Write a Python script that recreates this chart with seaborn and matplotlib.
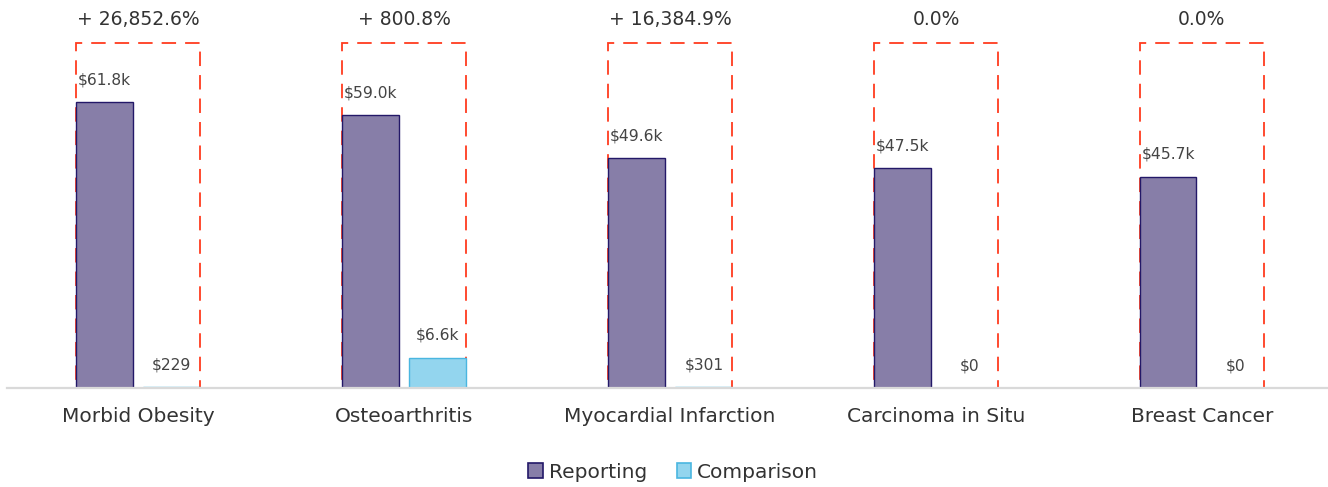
import matplotlib
matplotlib.use("Agg")
import matplotlib.pyplot as plt
from matplotlib.patches import Rectangle, Patch
import seaborn as sns
import pandas as pd

categories = ["Morbid Obesity", "Osteoarthritis", "Myocardial Infarction",
              "Carcinoma in Situ", "Breast Cancer"]
reporting = [61800, 59000, 49600, 47500, 45700]
comparison = [229, 6580, 301, 0, 0]
pct_change = [26852.6, 800.8, 16384.9, 0.0, 0.0]
series = ["Reporting", "Comparison"]


def money(v):
    if v >= 1000:
        return "${:.1f}k".format(v / 1000)
    return "${:.0f}".format(v)


def pct(p):
    if p > 0:
        return "+ {:,.1f}%".format(p)
    return "{:.1f}%".format(p)


df = pd.DataFrame({
    "category": categories * 2,
    "series": [series[0]] * len(categories) + [series[1]] * len(categories),
    "value": reporting + comparison,
})

face = {"Reporting": "#877ea8", "Comparison": "#93d5ee"}
edge = {"Reporting": "#231868", "Comparison": "#4ab6e0"}

sns.set_style("white")
plt.rcParams["font.family"] = ["DejaVu Sans"]

fig = plt.figure(figsize=(13.28, 4.87), dpi=100)
ax = fig.add_axes([7 / 1328, 99 / 487, 1321 / 1328, 388 / 487])

sns.barplot(data=df, x="category", y="value", hue="series", hue_order=series,
            palette=face, width=0.51, gap=0.16, ax=ax, legend=False,
            saturation=1, linewidth=1.0)

for cont, s in zip(ax.containers, series):
    for bar in cont:
        bar.set_edgecolor(edge[s])
        bar.set_zorder(3)

top = max(reporting) * 1.205
for i in range(len(categories)):
    rb = ax.containers[0][i]
    cb = ax.containers[1][i]
    x0 = rb.get_x()
    x1 = cb.get_x() + cb.get_width()
    ax.add_patch(Rectangle((x0, 0), x1 - x0, top, fill=False,
                           edgecolor="#ff3b1f", linewidth=1.3,
                           linestyle=(0, (8, 5)), zorder=2))
    ax.annotate(pct(pct_change[i]), ((x0 + x1) / 2, top), xytext=(0, 10.5),
                textcoords="offset points", ha="center", va="bottom",
                fontsize=13.5, color="#333333")
    for b, v in ((rb, reporting[i]), (cb, comparison[i])):
        ax.annotate(money(v), (b.get_x() + b.get_width() / 2, v),
                    xytext=(0, 10.5), textcoords="offset points",
                    ha="center", va="bottom", fontsize=11.2, color="#444444")

ax.set_xlim(-0.4925, 4.474)
ax.set_ylim(0, 388 / 4.628 * 1000)
ax.set_xlabel("")
ax.set_ylabel("")
ax.set_yticks([])
for side in ["left", "right", "top"]:
    ax.spines[side].set_visible(False)
ax.spines["bottom"].set_color("#d9d9d9")
ax.spines["bottom"].set_linewidth(1.6)
ax.spines["bottom"].set_zorder(5)
ax.tick_params(axis="x", length=0, pad=13.5, labelsize=14.5, labelcolor="#333333")

handles = [Patch(facecolor=face[s], edgecolor=edge[s], linewidth=1.2, label=s)
           for s in series]
fig.legend(handles=handles, loc="center", bbox_to_anchor=(0.507, 15 / 487),
           ncol=2, frameon=False, fontsize=14.5, handlelength=0.7,
           handleheight=0.7, handletextpad=0.3, columnspacing=1.5,
           labelcolor="#333333")

fig.savefig("out.png", dpi=100)
